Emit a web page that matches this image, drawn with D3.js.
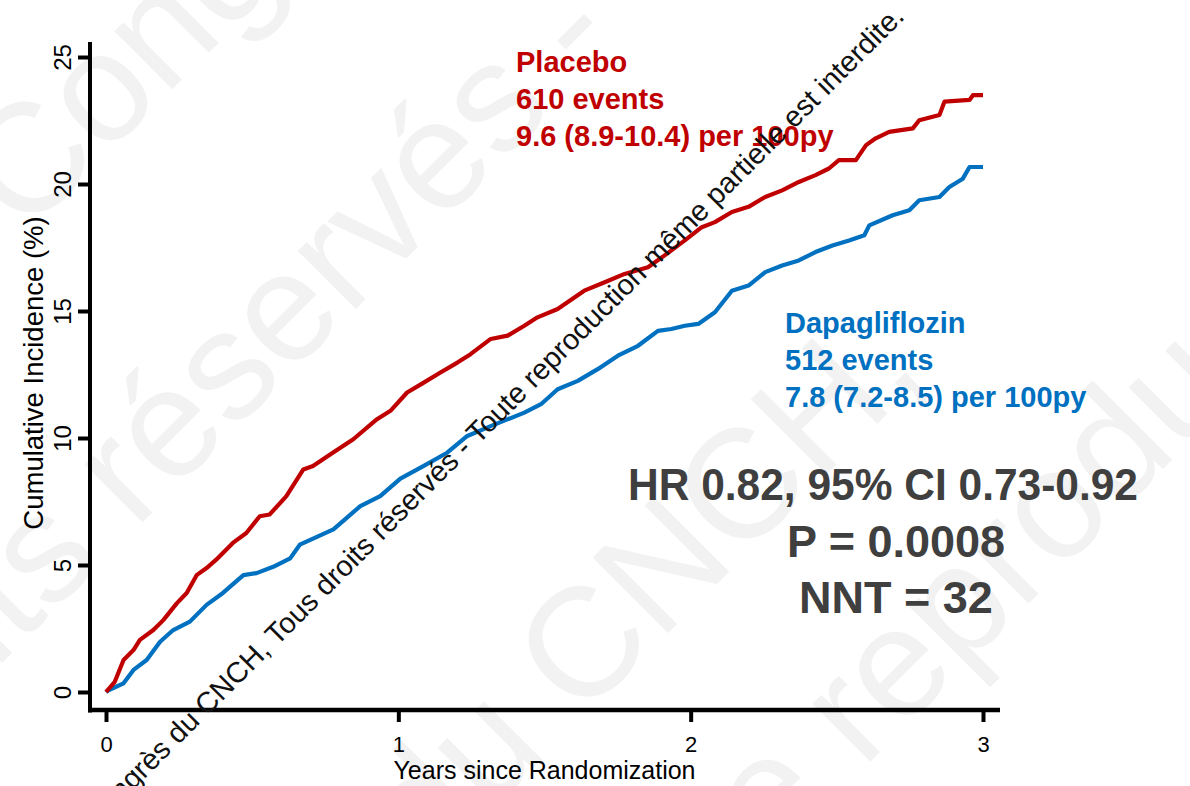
<!DOCTYPE html>
<html>
<head>
<meta charset="utf-8">
<script src="https://cdn.jsdelivr.net/npm/d3@7"></script>
<style>
  html, body { margin: 0; padding: 0; background: #fff; }
  svg { display: block; font-family: "Liberation Sans", Arial, Helvetica, sans-serif; }
</style>
</head>
<body>
<svg id="chart" width="1190" height="786"></svg>
<script>
// Kaplan-Meier style cumulative incidence, years since randomization vs %
const placeboYears = [0, 0.03, 0.06, 0.094, 0.116, 0.162, 0.196, 0.242, 0.276, 0.31, 0.344, 0.377, 0.434, 0.48, 0.526, 0.56, 0.617, 0.675, 0.708, 0.777, 0.846, 0.927, 0.973, 1.03, 1.087, 1.144, 1.202, 1.247, 1.316, 1.374, 1.431, 1.476, 1.545, 1.636, 1.706, 1.774, 1.854, 1.911, 1.98, 2.038, 2.083, 2.141, 2.198, 2.255, 2.313, 2.37, 2.427, 2.473, 2.507, 2.565, 2.6, 2.633, 2.679, 2.76, 2.782, 2.851, 2.868, 2.954, 2.966, 3.0];
const placeboIncidence = [0, 0.4, 1.26, 1.65, 2.05, 2.44, 2.83, 3.49, 3.9, 4.6, 4.88, 5.21, 5.87, 6.26, 6.92, 6.99, 7.71, 8.76, 8.9, 9.43, 9.95, 10.74, 11.07, 11.79, 12.18, 12.58, 12.97, 13.3, 13.9, 14.03, 14.42, 14.75, 15.08, 15.8, 16.13, 16.46, 16.72, 17.19, 17.78, 18.3, 18.5, 18.9, 19.1, 19.49, 19.75, 20.08, 20.35, 20.61, 20.94, 20.94, 21.53, 21.8, 22.05, 22.19, 22.51, 22.72, 23.24, 23.31, 23.5, 23.5];

const dapaYears = [0, 0.01, 0.06, 0.094, 0.139, 0.185, 0.23, 0.287, 0.344, 0.4, 0.47, 0.515, 0.572, 0.63, 0.663, 0.778, 0.87, 0.938, 1.007, 1.087, 1.167, 1.236, 1.316, 1.431, 1.488, 1.545, 1.614, 1.682, 1.751, 1.82, 1.888, 1.934, 1.98, 2.026, 2.083, 2.141, 2.198, 2.255, 2.313, 2.37, 2.427, 2.485, 2.542, 2.594, 2.611, 2.691, 2.748, 2.782, 2.851, 2.885, 2.931, 2.954, 3.0];
const dapaIncidence = [0, 0.08, 0.34, 0.87, 1.26, 1.98, 2.44, 2.77, 3.43, 3.9, 4.6, 4.68, 4.93, 5.26, 5.8, 6.4, 7.32, 7.71, 8.4, 8.9, 9.42, 10.08, 10.47, 11.0, 11.33, 11.92, 12.25, 12.71, 13.24, 13.63, 14.22, 14.29, 14.42, 14.49, 14.95, 15.8, 16.0, 16.53, 16.79, 16.99, 17.32, 17.58, 17.78, 17.98, 18.37, 18.77, 18.97, 19.36, 19.49, 19.88, 20.21, 20.67, 20.67];

const xTicks = [0, 1, 2, 3];
const yTicks = [0, 5, 10, 15, 20, 25];

const placeboLabel = ["Placebo", "610 events", "9.6 (8.9-10.4) per 100py"];
const dapaLabel = ["Dapagliflozin", "512 events", "7.8 (7.2-8.5) per 100py"];
const statsLabel = ["HR 0.82, 95% CI 0.73-0.92", "P = 0.0008", "NNT = 32"];
const xTitle = "Years since Randomization";
const yTitle = "Cumulative Incidence (%)";
const notice = "Congrès du CNCH, Tous droits réservés - Toute reproduction même partielle est interdite.";
const noticeWords = ["Congrès du CNCH, Tous droits réservés -", "Tous droits réservés -", "du CNCH,", "Toute reproduction"];

const RED = "#c00000";
const BLUE = "#0070c0";
const GREY = "#3f3f3f";

const svg = d3.select("#chart");

// ---- faint background notice, large diagonal words ----
const bg = svg.append("g").attr("transform", "rotate(-45)")
  .attr("fill", "#f2f2f2").attr("font-size", 155);
// [text, substring, u where that substring starts (or ends if 'end'), baseline s, mode]
const bgLines = [
  [noticeWords[0], "Congrès", -150, 185, "start"],
  [noticeWords[1], "réservés -", 410, 470, "end"],
  [noticeWords[2], "CNCH", -100, 920, "start"],
  [noticeWords[3], "reproduction", 66, 1154, "start"]
];
bgLines.forEach(([txt, key, u, s, mode]) => {
  const t = bg.append("text").attr("y", s).attr("x", 0).text(txt);
  const idx = txt.indexOf(key);
  const node = t.node();
  let off = idx > 0 ? node.getSubStringLength(0, idx) : 0;
  if (mode === "end") off += node.getSubStringLength(idx, key.length);
  t.attr("x", u - off);
});

// ---- scales ----
const x = d3.scaleLinear().domain([0, 3]).range([106, 983]);
const y = d3.scaleLinear().domain([0, 25]).range([692, 57]);

// ---- axes ----
const xAxis = svg.append("g").attr("transform", "translate(0,710)")
  .call(d3.axisBottom(x).tickValues(xTicks).tickSize(12).tickPadding(14).tickFormat(d3.format("d")));
xAxis.select(".domain").remove();
xAxis.selectAll(".tick line").attr("stroke", "#000").attr("stroke-width", 4);
xAxis.selectAll(".tick text").attr("font-size", 22).attr("fill", "#000")
  .attr("font-family", "\"Liberation Sans\", Arial, sans-serif");

const yAxis = svg.append("g").attr("transform", "translate(90,0)")
  .call(d3.axisLeft(y).tickValues(yTicks).tickSize(12).tickFormat(d3.format("d")));
yAxis.select(".domain").remove();
yAxis.selectAll(".tick line").attr("stroke", "#000").attr("stroke-width", 4);
yAxis.selectAll(".tick text")
  .attr("x", null).attr("dy", null).attr("y", 0)
  .attr("transform", "translate(-19,0) rotate(-90)")
  .attr("text-anchor", "middle")
  .attr("font-size", 24).attr("fill", "#000")
  .attr("font-family", "\"Liberation Sans\", Arial, sans-serif");

// axis spines (offset from the data area)
svg.append("line").attr("x1", 90).attr("x2", 90).attr("y1", 42).attr("y2", 712.5)
  .attr("stroke", "#000").attr("stroke-width", 4);
svg.append("line").attr("x1", 88).attr("x2", 1000).attr("y1", 710).attr("y2", 710)
  .attr("stroke", "#000").attr("stroke-width", 4.5);

// axis titles
svg.append("text").attr("x", (x(0) + x(3)) / 2).attr("y", 779)
  .attr("text-anchor", "middle").attr("font-size", 25).attr("fill", "#000")
  .text(xTitle);
svg.append("text").attr("transform", "translate(43,373) rotate(-90)")
  .attr("text-anchor", "middle").attr("font-size", 27.5).attr("fill", "#000")
  .text(yTitle);

// ---- curves ----
const line = d3.line().x(d => x(d[0])).y(d => y(d[1])).curve(d3.curveLinear);
const placebo = placeboYears.map((t, i) => [t, placeboIncidence[i]]);
const dapa = dapaYears.map((t, i) => [t, dapaIncidence[i]]);

svg.append("path").datum(dapa).attr("d", line)
  .attr("fill", "none").attr("stroke", BLUE).attr("stroke-width", 4.2)
  .attr("stroke-linejoin", "round");
svg.append("path").datum(placebo).attr("d", line)
  .attr("fill", "none").attr("stroke", RED).attr("stroke-width", 4.2)
  .attr("stroke-linejoin", "round");

// ---- group labels ----
function block(lines, x0, y0, step, color, size, anchor) {
  const g = svg.append("g").attr("fill", color).attr("font-size", size)
    .attr("font-weight", "bold").attr("text-anchor", anchor);
  return lines.map((s, i) => g.append("text").attr("x", x0).attr("y", y0 + i * step).text(s));
}
block(placeboLabel, 516, 72, 37, RED, 29, "start");
block(dapaLabel, 785, 333, 37, BLUE, 29, "start");
const stats = block(statsLabel, 896, 500, 56.5, GREY, 45, "middle");
stats[0].attr("x", 883).attr("textLength", 510).attr("lengthAdjust", "spacingAndGlyphs");

// ---- overlaid notice line ----
svg.append("g").attr("transform", "rotate(-45)")
  .append("text").attr("x", 628).attr("y", 653)
  .attr("text-anchor", "end").attr("font-size", 29).attr("fill", "#111")
  .text(notice);
</script>
</body>
</html>
